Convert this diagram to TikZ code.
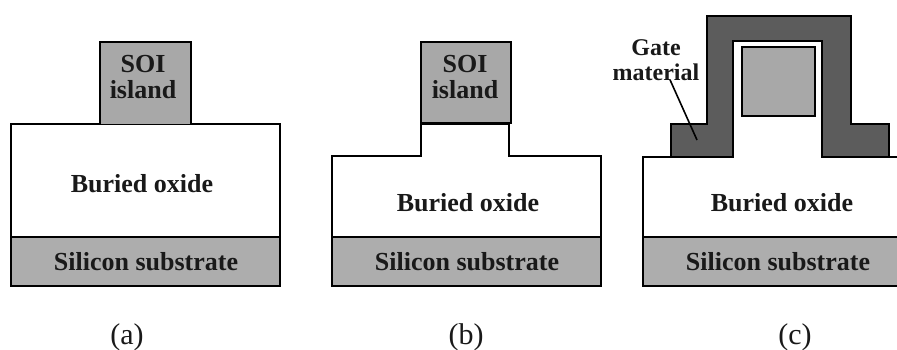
\documentclass[tikz,border=0pt]{standalone}
\usepackage{fontspec}
\setmainfont{Liberation Serif}
\tikzset{
  layer/.style={draw=black,line width=2.4pt,line join=miter},
  lbl/.style={font=\fontsize{26}{26}\selectfont\bfseries,text=black!90,align=center,inner sep=0pt},
  figcap/.style={font=\fontsize{30}{30}\selectfont,text=black!90,inner sep=0pt}
}
\definecolor{siliconfill}{gray}{0.68}
\definecolor{islandfill}{gray}{0.66}
\definecolor{gatefill}{gray}{0.36}
\begin{document}
\begin{tikzpicture}[x=1pt,y=-1pt]
    \useasboundingbox (0,0) rectangle (897,350);
    \foreach \x in {11,332,643} {
			\draw [layer,fill=siliconfill] (\x,237) rectangle (\x+269,286);
    }
		\foreach \x/\name in {146/a,467/b,778/c} \node [lbl] (sub\name) at (\x,262) {Silicon substrate};
		% the oxide of each panel
		\draw [layer] (11,237) -- (11,124) -- (280,124) -- (280,237);
		\draw [layer] (332,237) -- (332,156) -- (421,156) -- (421,124) -- (509,124) -- (509,156) -- (601,156) -- (601,237);
		\draw [layer] (643,237) -- (643,157) -- (733,157);
		\draw [layer] (822,157) -- (912,157) -- (912,237);
		\foreach \x/\y/\name in {142/184/a,468/203/b,782/203/c} \node [lbl] (ox\name) at (\x,\y) {Buried oxide};
		% islands
		\draw [layer,fill=islandfill] (100,124) -- (100,42) -- (191,42) -- (191,124);
		\draw [layer,fill=islandfill] (421,42) rectangle (511,123);
		\node [lbl] (isla) at (143,77) {SOI\\island};
		\node [lbl] (islb) at (465,77) {SOI\\island};
		% gate
		\draw [layer,fill=gatefill] (671,157) -- (671,124) -- (707,124) -- (707,16) -- (851,16) -- (851,124) -- (889,124) -- (889,157) -- (822,157) -- (822,41) -- (733,41) -- (733,157) -- cycle;
		\draw [layer,fill=islandfill] (742,47) rectangle (815,116);
		\node [lbl,font=\fontsize{24}{25}\selectfont\bfseries] (gate) at (656,60) {Gate\\material};
		\coordinate (gatept) at (697,140);
		\draw [line width=1.6pt] (gate.south) ++(14,-1) -- (gatept);
		\foreach \x/\t/\name in {127/a/capa,466/b/capb,795/c/capc} \node [figcap] (\name) at (\x,337) {(\t)};
  \end{tikzpicture}
\end{document}
